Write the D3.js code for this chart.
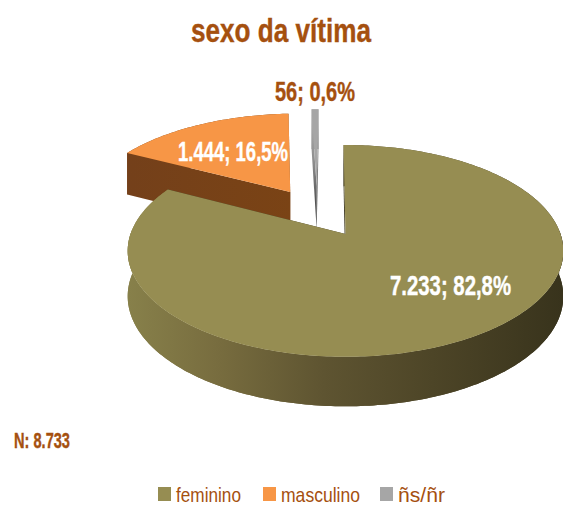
<!DOCTYPE html>
<html><head><meta charset="utf-8">
<style>html,body{margin:0;padding:0;background:#fff}svg{display:block}
text{font-family:"Liberation Sans Narrow","Liberation Sans",sans-serif}</style>
<script src="https://cdn.jsdelivr.net/npm/d3@7"></script></head>
<body><svg id="c" width="563" height="507"></svg>
<script>
const categories = ["feminino", "masculino", "ñs/ñr"];
const values = [7233, 1444, 56];
const colors = ["#968d52", "#f79646", "#a6a6a6"];
const title = "sexo da vítima";
const note = "N: 8.733";

const W = 563, H = 507;
const svg = d3.select("#c");
const brown = "#a5500f";
const loc = d3.formatLocale({decimal: ",", thousands: ".", grouping: [3], currency: ["", ""]});
const fmtN = loc.format(",d"), fmtP = loc.format(".1%");
const total = d3.sum(values);

// projection of the tilted pie plane
const cx = 345.5, cy = 234, bx = 215, by = 103.2, k = 0.16;
const project = (X, Y) => {
  const q = 1 + k * Y;
  return [cx + bx * X / q, cy - by * Y / q];
};
const depth = y => 41.5 + (y - 153) * 0.039;
const down = p => [p[0], p[1] + depth(p[1])];

const rot = -0.6 * Math.PI / 180;
const slices = d3.pie().sort(null).startAngle(rot).endAngle(2 * Math.PI + rot)(values);
const offsets = [[0, 0], [-0.275, 0.435], [-0.145, 0.5]];
const line = d3.line();
const poly = pts => line(pts) + "Z";

const rim = (d, i) => {
  const n = Math.max(2, Math.ceil((d.endAngle - d.startAngle) * 60));
  return d3.range(n + 1).map(j => {
    const a = d.startAngle + (d.endAngle - d.startAngle) * j / n;
    return project(Math.sin(a) + offsets[i][0], Math.cos(a) + offsets[i][1]);
  });
};
const apex = i => project(offsets[i][0], offsets[i][1]);

const defs = svg.append("defs");
function grad(id, x1, y1, x2, y2, stops) {
  const g = defs.append("linearGradient").attr("id", id).attr("gradientUnits", "userSpaceOnUse")
    .attr("x1", x1).attr("y1", y1).attr("x2", x2).attr("y2", y2);
  stops.forEach(s => g.append("stop").attr("offset", s[0]).attr("stop-color", s[1]));
}
grad("wall0", 129, 0, 563, 0, [[0, "#87804a"], [0.2, "#786d3f"], [0.45, "#5e5431"], [0.7, "#4d4527"], [1, "#38331c"]]);
grad("wall1", 130, 0, 293, 0, [[0, "#74401a"], [1, "#7a4315"]]);
grad("wall2", 0, 112, 0, 228, [[0, "#b4b4b4"], [0.45, "#8a8a8a"], [1, "#2f2f2f"]]);

const order = [2, 1, 0];
const g = svg.append("g");
order.forEach(i => {
  const d = slices[i], r = rim(d, i), a = apex(i), gs = g.append("g");
  const wallFill = `url(#wall${i})`;
  // outer wall
  gs.append("path").attr("d", poly(r.concat(r.map(down).reverse()))).attr("fill", wallFill);
  // radial cut walls
  [r[0], r[r.length - 1]].forEach(p => {
    gs.append("path").attr("d", poly([p, a, down(a), down(p)])).attr("fill", i === 0 ? "#3d3820" : wallFill);
  });
  if (i === 0) { // redraw near wall over the cut faces
    const near = r.filter((p, j) => { const t = d.startAngle + (d.endAngle - d.startAngle) * j / (r.length - 1); return Math.cos(t) < 0.05; });
    gs.append("path").attr("d", poly(near.concat(near.map(down).reverse()))).attr("fill", wallFill);
  }
  gs.append("path").attr("d", poly([a].concat(r))).attr("fill", colors[i]);
});

// title and note
const T = (x, y, s, size, fill, len, weight) => svg.append("text")
  .attr("x", x).attr("y", y).attr("font-size", size).attr("font-weight", weight || "bold")
  .attr("fill", fill).attr("textLength", len).attr("lengthAdjust", "spacingAndGlyphs")
  .attr("stroke", weight ? "none" : fill).attr("stroke-width", weight ? 0 : 0.4).text(s);

T(191, 42, title, 34, brown, 180);
T(14, 448, note, 22, brown, 56);

// data labels
const labelPos = [[390, 295, 121, "#fff"], [178, 161, 110, "#fff"], [275, 101, 80, brown]];
values.forEach((v, i) => {
  const [x, y, len, fill] = labelPos[i];
  T(x, y, `${fmtN(v)}; ${fmtP(v / total)}`, 28, fill, len);
});

// legend
const legendX = [158, 263, 380], legendLen = [65, 79, 47];
categories.forEach((c, i) => {
  svg.append("rect").attr("x", legendX[i]).attr("y", 487).attr("width", 13).attr("height", 14).attr("fill", colors[i]);
  T(legendX[i] + 18, 502, c, 21, brown, legendLen[i], "normal");
});
</script></body></html>
